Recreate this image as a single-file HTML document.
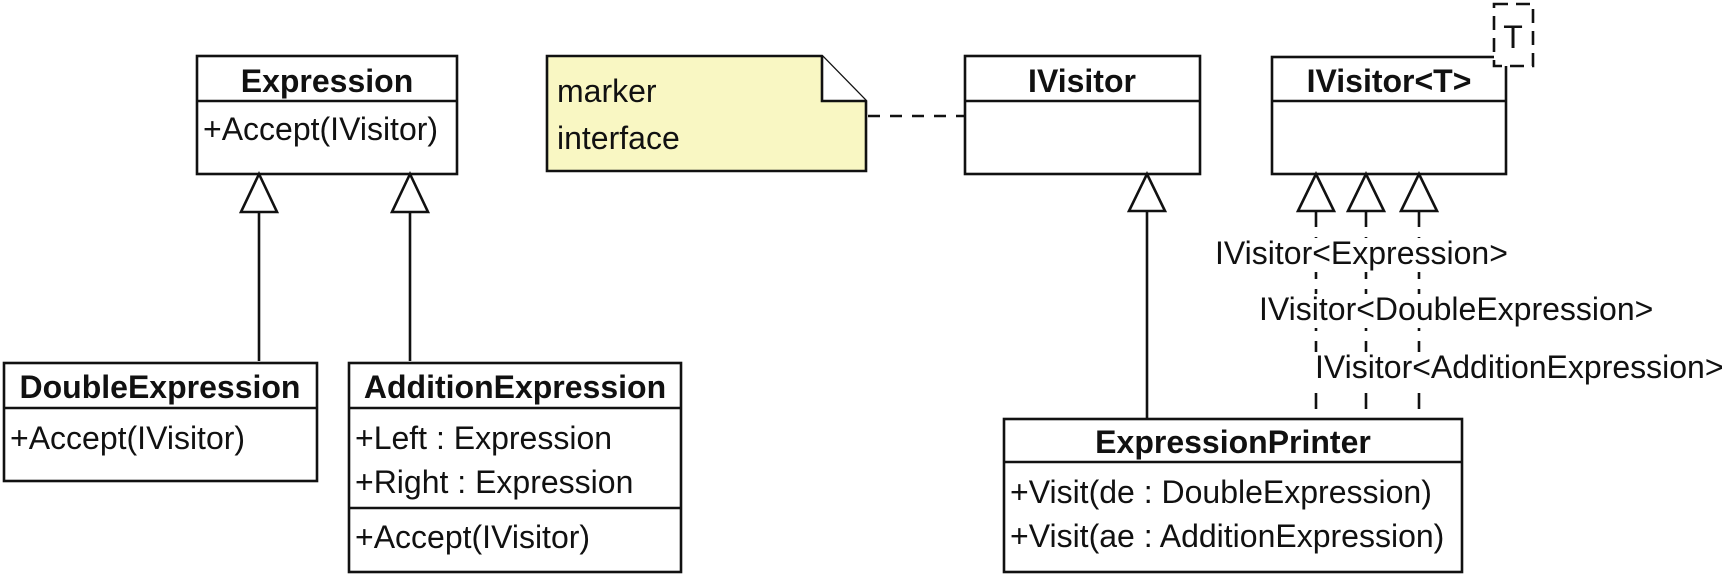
<!DOCTYPE html>
<html><head><meta charset="utf-8"><style>
html,body{margin:0;padding:0;background:#fff;}
svg{display:block;}
text{font-family:"Liberation Sans",Arial,sans-serif;font-size:32px;fill:#111;}
.b{font-weight:bold;}
</style></head><body>
<svg width="1725" height="575" viewBox="0 0 1725 575" xmlns="http://www.w3.org/2000/svg">
<g stroke="#111" stroke-width="2.6" fill="none">
<!-- Expression -->
<rect x="197" y="56" width="260" height="118" fill="#fff"/>
<line x1="197" y1="101" x2="457" y2="101"/>
<!-- DoubleExpression -->
<rect x="4" y="363" width="313" height="118" fill="#fff"/>
<line x1="4" y1="408" x2="317" y2="408"/>
<!-- AdditionExpression -->
<rect x="349" y="363" width="332" height="209" fill="#fff"/>
<line x1="349" y1="408" x2="681" y2="408"/>
<line x1="349" y1="508" x2="681" y2="508"/>
<!-- inheritance -->
<line x1="259" y1="212" x2="259" y2="361"/>
<polygon points="259,174 241,212 277,212" fill="#fff"/>
<line x1="410" y1="212" x2="410" y2="361"/>
<polygon points="410,174 392,212 428,212" fill="#fff"/>
<!-- note -->
<path d="M547,56 L822,56 L866,101 L866,171 L547,171 Z" fill="#f9f7c3"/>
<path d="M822,56 L822,101 L866,101" fill="#fff"/>
<line x1="868" y1="116" x2="965" y2="116" stroke-dasharray="12,10"/>
<!-- IVisitor -->
<rect x="965" y="56" width="235" height="118" fill="#fff"/>
<line x1="965" y1="101" x2="1200" y2="101"/>
<line x1="1147" y1="211" x2="1147" y2="419"/>
<polygon points="1147,174 1129,211 1165,211" fill="#fff"/>
<!-- IVisitor<T> -->
<rect x="1272" y="57" width="234" height="117" fill="#fff"/>
<line x1="1272" y1="101" x2="1506" y2="101"/>
<rect x="1494" y="4" width="39" height="62" fill="#fff" stroke-dasharray="14,8"/>
<!-- realization -->
<line x1="1316" y1="211" x2="1316" y2="419" stroke-dasharray="16,10"/>
<line x1="1366" y1="211" x2="1366" y2="419" stroke-dasharray="16,10"/>
<line x1="1419" y1="211" x2="1419" y2="419" stroke-dasharray="16,10"/>
<polygon points="1316,174 1298,211 1334,211" fill="#fff"/>
<polygon points="1366,174 1348,211 1384,211" fill="#fff"/>
<polygon points="1419,174 1401,211 1437,211" fill="#fff"/>
<!-- ExpressionPrinter -->
<rect x="1004" y="419" width="458" height="153" fill="#fff"/>
<line x1="1004" y1="462" x2="1462" y2="462"/>
</g>
<!-- label backgrounds -->
<rect x="1213" y="238" width="294" height="34" fill="#fff"/>
<rect x="1257" y="294" width="380" height="34" fill="#fff"/>
<rect x="1313" y="352" width="412" height="34" fill="#fff"/>

<text class="b" x="327" y="92" text-anchor="middle">Expression</text>
<text x="203" y="140">+Accept(IVisitor)</text>
<text class="b" x="160" y="398" text-anchor="middle">DoubleExpression</text>
<text x="10" y="449">+Accept(IVisitor)</text>
<text class="b" x="515" y="398" text-anchor="middle">AdditionExpression</text>
<text x="355" y="449">+Left : Expression</text>
<text x="355" y="493">+Right : Expression</text>
<text x="355" y="548">+Accept(IVisitor)</text>
<text x="557" y="102">marker</text>
<text x="557" y="149">interface</text>
<text class="b" x="1082" y="92" text-anchor="middle">IVisitor</text>
<text class="b" x="1389" y="92" text-anchor="middle">IVisitor&lt;T&gt;</text>
<text x="1513" y="48" text-anchor="middle">T</text>
<text x="1215" y="264">IVisitor&lt;Expression&gt;</text>
<text x="1259" y="320">IVisitor&lt;DoubleExpression&gt;</text>
<text x="1315" y="378">IVisitor&lt;AdditionExpression&gt;</text>
<text class="b" x="1233" y="453" text-anchor="middle">ExpressionPrinter</text>
<text x="1010" y="503">+Visit(de : DoubleExpression)</text>
<text x="1010" y="547">+Visit(ae : AdditionExpression)</text>
</svg>
</body></html>
